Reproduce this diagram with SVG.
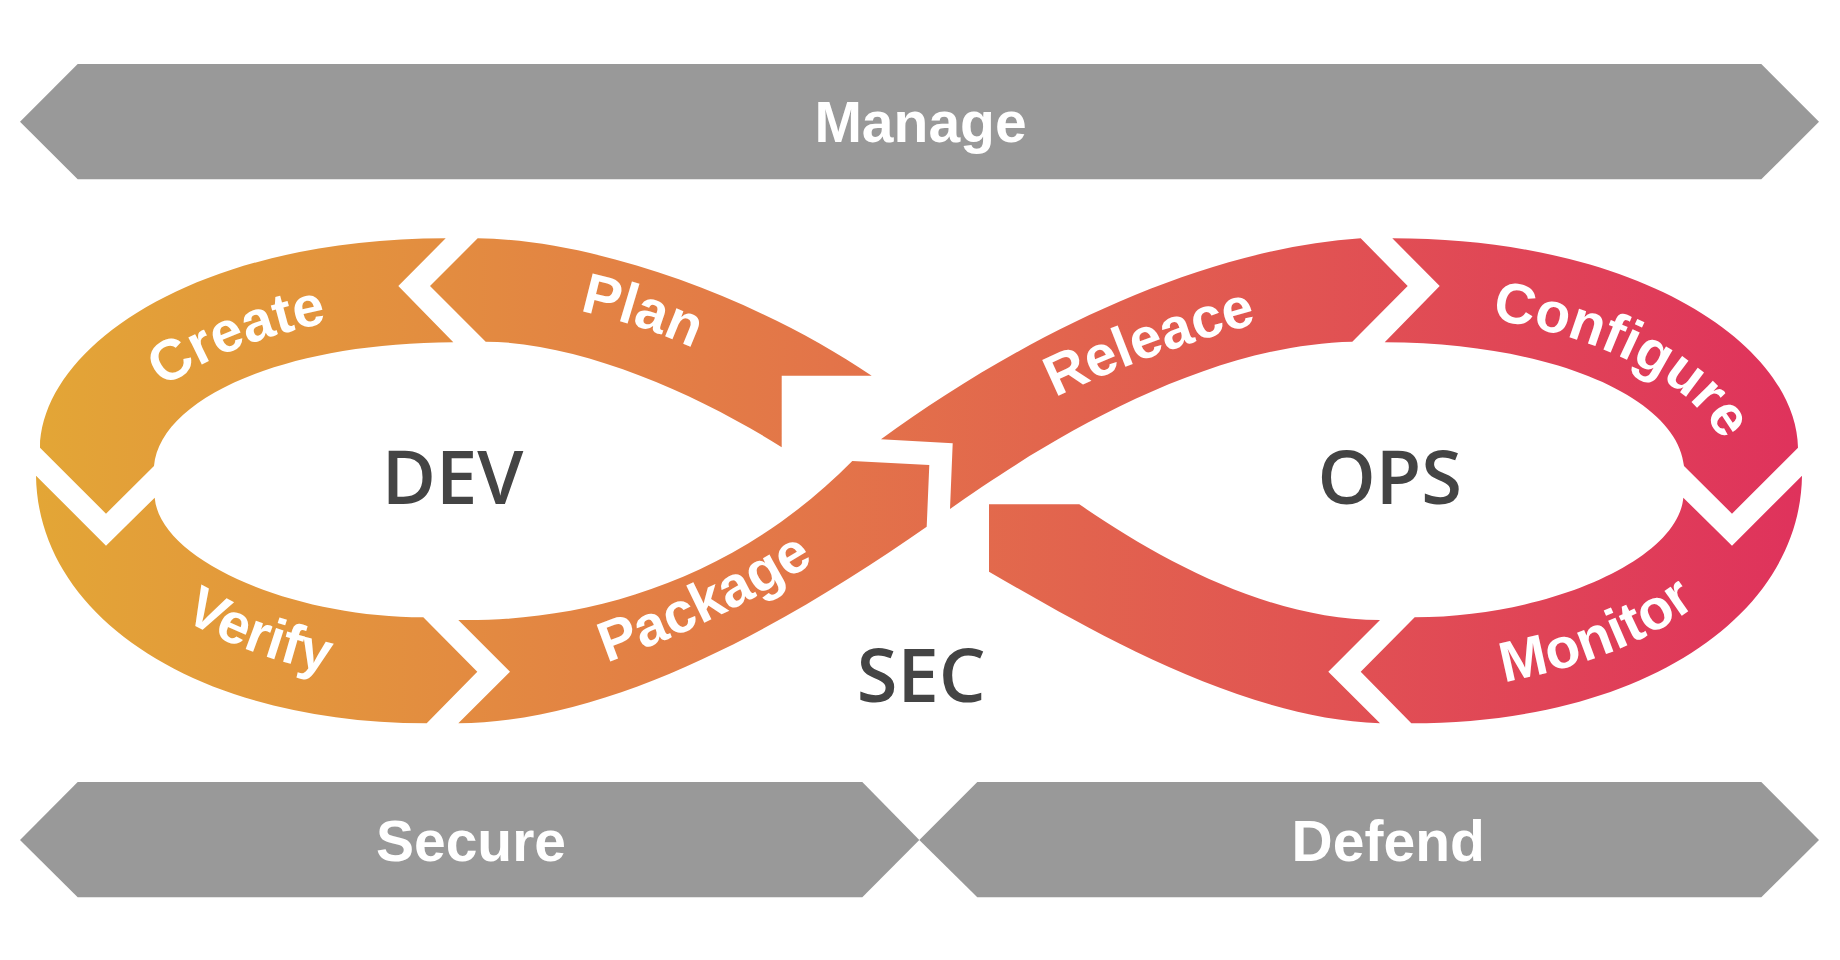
<svg xmlns="http://www.w3.org/2000/svg" width="1840" height="960" viewBox="0 0 1840 960">
  <defs>
    <linearGradient id="loopGrad" gradientUnits="userSpaceOnUse" x1="35" y1="0" x2="1803" y2="0">
      <stop offset="0" stop-color="#E3A636"/>
      <stop offset="0.45" stop-color="#E37449"/>
      <stop offset="1" stop-color="#DF325C"/>
    </linearGradient>
    <path id="tpCreate" d="M108.9,498.6 A350,170 0 0 1 457,310.8"/>
    <path id="tpVerify" d="M97.2,528.6 A370,205 0 0 0 444.1,685.7"/>
    <path id="tpPlan" d="M458,298 Q640,298 800,408"/>
    <path id="tpPackage" d="M470,700 Q720,650 930,480"/>
    <path id="tpRelease" d="M930,468 Q1130,336 1398,294"/>
    <path id="tpConfigure" d="M1405.4,311.2 A350,170 0 0 1 1719.1,524.8"/>
    <path id="tpMonitor" d="M1402.8,692.5 A390,212 0 0 0 1768.9,503"/>
  </defs>
  <style>
    .bar { fill: #999999; }
    .bar-label { font-family: "Liberation Sans", Arial, sans-serif; font-weight: 700; font-size: 57px; fill: #ffffff; text-anchor: middle; }
    .seg { fill: url(#loopGrad); }
    .seg-label { font-family: "Liberation Sans", Arial, sans-serif; font-weight: 700; font-size: 57px; fill: #ffffff; text-anchor: middle; }
    .center-label { font-family: "Open Sans", "Liberation Sans", sans-serif; font-weight: 600; font-size: 74px; fill: #444444; text-anchor: middle; }
  </style>
  <rect width="1840" height="960" fill="#ffffff"/>

  <g id="manage">
    <path class="bar" d="M20,121.7 L77.7,64 L1761.3,64 L1819,121.7 L1761.3,179.3 L77.7,179.3 Z"/>
    <text class="bar-label" x="920.5" y="141.7">Manage</text>
  </g>

  <g id="create">
    <path class="seg" d="M445.7,238.3 L398.3,286 L453.3,342.3 C280,343 160,400 154,466 L106,513.7 L40,447.7 C42,345 199,238.3 445.7,238.3 Z"/>
    <text class="seg-label"><textPath href="#tpCreate" startOffset="50%">Create</textPath></text>
  </g>

  <g id="plan">
    <path class="seg" d="M477.7,238.3 L430,286 L485.7,341.7 C580,342 700,395 781.7,447.3 L781.7,375.7 L871.7,375.7 C760,300 600,240 477.7,238.3 Z"/>
    <text class="seg-label"><textPath href="#tpPlan" startOffset="50%">Plan</textPath></text>
  </g>

  <g id="verify">
    <path class="seg" d="M36,475.7 L106,545.7 L154.7,497.7 C160,560 290,617 423.3,617.3 L477.3,671.7 L426.7,723.3 C199,723.3 38,618 36,475.7 Z"/>
    <text class="seg-label"><textPath href="#tpVerify" startOffset="51%">Verify</textPath></text>
  </g>

  <g id="package">
    <path class="seg" d="M458.3,723.3 L510,671.7 L458.3,620 C580,622 730,585 852.3,461 L929.3,465 L926.7,526.7 C800,615 620,722 458.3,723.3 Z"/>
    <text class="seg-label"><textPath href="#tpPackage" startOffset="50%">Package</textPath></text>
  </g>

  <g id="release">
    <path class="seg" d="M881,439.3 L952.7,443.3 L950,509 C1040,445 1200,345 1352.3,341.7 L1407.7,286 L1360.7,238.3 C1190,250 1010,345 881,439.3 Z"/>
    <text class="seg-label"><textPath href="#tpRelease" startOffset="50%">Releace</textPath></text>
  </g>

  <g id="configure">
    <path class="seg" d="M1392.3,238.3 L1439.7,286 L1384.7,342.3 C1558,343 1678,400 1684,466 L1732,513.7 L1798,447.7 C1796,345 1639,238.3 1392.3,238.3 Z"/>
    <text class="seg-label"><textPath href="#tpConfigure" startOffset="50%">Configure</textPath></text>
  </g>

  <g id="monitor">
    <path class="seg" d="M1802,475.7 L1732,545.7 L1683.3,497.7 C1678,560 1548,617 1414.7,617.3 L1360.7,671.7 L1411.3,723.3 C1639,723.3 1800,618 1802,475.7 Z"/>
    <text class="seg-label"><textPath href="#tpMonitor" startOffset="47%">Monitor</textPath></text>
  </g>

  <g id="ops-return">
    <path class="seg" d="M989,504.3 L1079.3,504.3 C1160,560 1270,620 1380,620 L1328.3,671.7 L1380,723.3 C1240,718 1090,630 989,571.7 Z"/>
  </g>

  <g id="dev">
    <text class="center-label" x="452.5" y="504.3">DEV</text>
  </g>
  <g id="ops">
    <text class="center-label" x="1389.7" y="504.3">OPS</text>
  </g>
  <g id="sec">
    <text class="center-label" x="921.3" y="702.3">SEC</text>
  </g>

  <g id="secure">
    <path class="bar" d="M20,840 L77.7,782 L862.3,782 L919.3,840 L862.3,897.3 L77.7,897.3 Z"/>
    <text class="bar-label" x="471" y="860.7">Secure</text>
  </g>
  <g id="defend">
    <path class="bar" d="M919.3,840 L977.3,782 L1761.3,782 L1819,840 L1761.3,897.3 L977.3,897.3 Z"/>
    <text class="bar-label" x="1388.2" y="860.7">Defend</text>
  </g>

  <g id="connectors"/>
</svg>
